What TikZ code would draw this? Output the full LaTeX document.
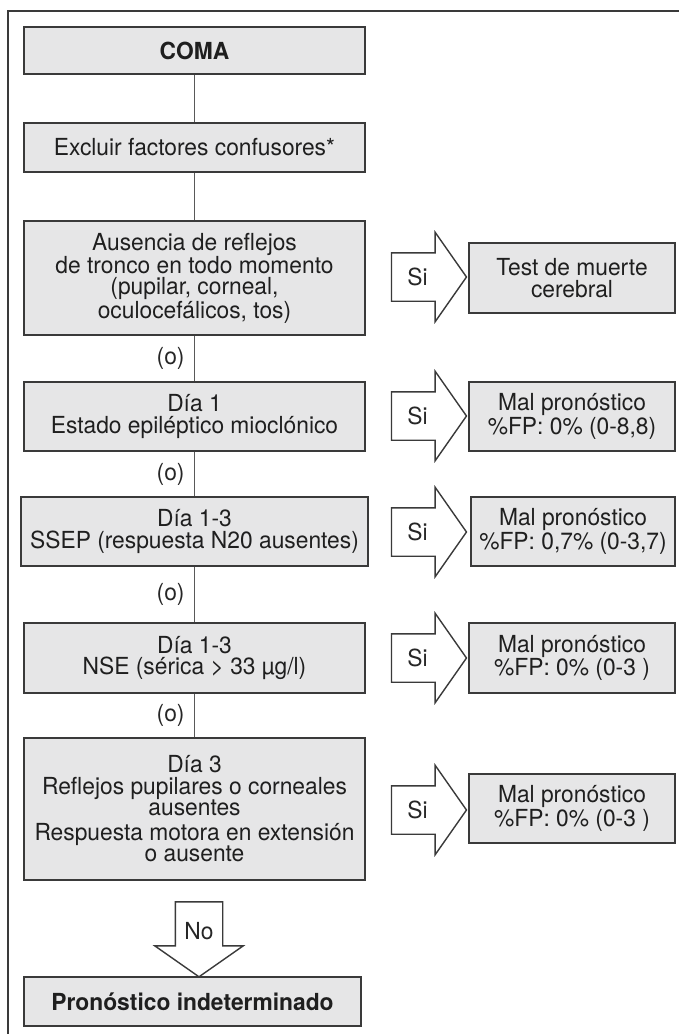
\documentclass[tikz,border=0pt]{standalone}
\usepackage{fontspec}
\setmainfont[FakeStretch=0.97]{TeX Gyre Heros}
\usetikzlibrary{shapes.arrows}
\definecolor{boxgray}{HTML}{E6E6E7}
\definecolor{linegray}{HTML}{3A3A3A}
\tikzset{
  box/.style={draw=linegray,line width=1.6pt,fill=boxgray,align=center,inner sep=2pt,text=black!88},
  leftbox/.style={box,minimum width=341pt},
  rightbox/.style={box,minimum width=206pt,minimum height=69pt},
  siarrow/.style={shape=single arrow,draw=linegray,line width=1.4pt,fill=white,
    minimum height=75pt,minimum width=88pt,single arrow head extend=20.5pt,
    single arrow tip angle=110,inner xsep=0pt,inner ysep=23.5pt},
  noarrow/.style={siarrow,shape border rotate=270,inner xsep=23pt,inner ysep=0pt},
  arrowtext/.style={text=black!85},
  conn/.style={draw=black!65,line width=1.3pt},
  olabel/.style={midway,left,xshift=-6pt,text=black!85}
}
\begin{document}
\begin{tikzpicture}[x=1pt,y=-1pt,font=\fontsize{23.5}{21.5}\selectfont]
\useasboundingbox (0,0) rectangle (679,1034);
%frame
\draw[draw=linegray,line width=1.8pt] (8,1034) -- (8,11) -- (679,11);
%left column
\node[leftbox,minimum height=47pt] (coma) at (194.5,50.5) {\textbf{COMA}};
\node[leftbox,minimum height=49pt] (excl) at (194.5,147.5) {Excluir factores confusores*};
\node[leftbox,minimum height=114pt] (aus) at (194.5,278) {Ausencia de reflejos\\de tronco en todo momento\\(pupilar, corneal,\\oculocefálicos, tos)};
\node[leftbox,minimum height=69pt] (dia1) at (194.5,416.5) {Día 1\\Estado epiléptico mioclónico};
\node[box,minimum width=347pt,minimum height=69pt] (ssep) at (194.5,531.5) {Día 1-3\\SSEP (respuesta N20 ausentes)};
\node[leftbox,minimum height=70pt] (nse) at (194.5,658) {Día 1-3\\NSE (sérica > 33 µg/l)};
\node[leftbox,minimum height=142pt] (dia3) at (194.5,809) {Día 3\\Reflejos pupilares o corneales\\ausentes\\[3pt]Respuesta motora en extensión\\o ausente};
\node[box,minimum width=337pt,minimum height=49pt] (indet) at (192.5,1001.5) {\textbf{Pronóstico indeterminado}};
%connectors
\draw[conn] (coma) -- (excl);
\draw[conn] (excl) -- (aus);
\draw[conn] (aus) -- node[olabel] {(o)} (dia1);
\draw[conn] (dia1) -- node[olabel] {(o)} (ssep);
\draw[conn] (ssep) -- node[olabel] {(o)} (nse);
\draw[conn] (nse) -- node[olabel] {(o)} (dia3);
%right column
\node[rightbox,minimum height=70pt] (test) at (572,278) {Test de muerte\\cerebral};
\node[rightbox] (mal1) at (572,416.5) {Mal pronóstico\\\%FP: 0\% (0-8,8)};
\node[rightbox,minimum width=204pt] (mal2) at (573,531.5) {Mal pronóstico\\\%FP: 0,7\% (0-3,7)};
\node[rightbox,minimum height=70pt] (mal3) at (572,658) {Mal pronóstico\\\%FP: 0\% (0-3 )};
\node[rightbox] (mal4) at (572,808.5) {Mal pronóstico\\\%FP: 0\% (0-3 )};
%arrows
\node[siarrow] (si1) at (420.5,277) {};
\node[siarrow] (si2) at (420.5,416) {};
\node[siarrow] (si3) at (420.5,532) {};
\node[siarrow] (si4) at (420.5,658) {};
\node[siarrow] (si5) at (420.5,810) {};
\node[noarrow] (no) at (199,931) {};
\node[arrowtext] (t1) at ([xshift=-3pt]si1.center) {Si};
\node[arrowtext] (t2) at ([xshift=-3pt]si2.center) {Si};
\node[arrowtext] (t3) at ([xshift=-3pt]si3.center) {Si};
\node[arrowtext] (t4) at ([xshift=-3pt]si4.center) {Si};
\node[arrowtext] (t5) at ([xshift=-3pt]si5.center) {Si};
\node[arrowtext] (t6) at (no.center) {No};
\end{tikzpicture}
\end{document}
